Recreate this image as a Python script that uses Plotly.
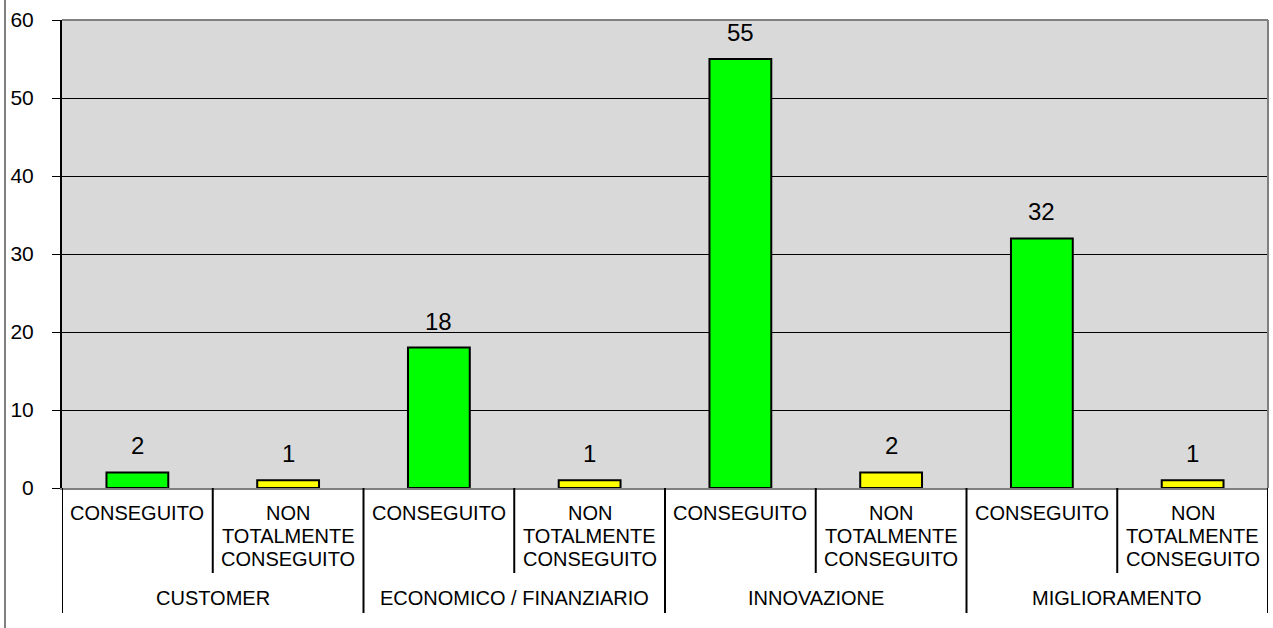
import plotly.graph_objects as go

groups = ["CUSTOMER", "ECONOMICO / FINANZIARIO", "INNOVAZIONE", "MIGLIORAMENTO"]
sub_lines = [["CONSEGUITO"], ["NON", "TOTALMENTE", "CONSEGUITO"]]
values = [2, 1, 18, 1, 55, 2, 32, 1]
colors = ["#00ff00", "#ffff00"]

W, H = 1273, 628
ML, MR, MT, MB = 62, 5, 20, 140
PH = H - MT - MB
FONT = "Liberation Sans, Arial, sans-serif"

n = len(values)
xs = list(range(n))
bar_colors = [colors[i % 2] for i in xs]

fig = go.Figure()
fig.add_trace(go.Bar(
    x=xs, y=values, width=0.41,
    marker=dict(color=bar_colors, line=dict(color="black", width=2)),
    hoverinfo="y",
))

annotations = []
for x, v in zip(xs, values):
    annotations.append(dict(x=x, y=v, xref="x", yref="y", text=str(v), showarrow=False,
                            yanchor="bottom", yshift=11,
                            font=dict(family=FONT, size=24, color="black")))

line_gap = 23
for i in xs:
    lines = sub_lines[i % 2]
    for k, t in enumerate(lines):
        annotations.append(dict(x=i, y=0, xref="x", yref="paper", text=t, showarrow=False,
                                yanchor="middle", yshift=-(25 + k * line_gap),
                                font=dict(family=FONT, size=20, color="black")))
for g, name in enumerate(groups):
    annotations.append(dict(x=2 * g + 0.5, y=0, xref="x", yref="paper", text=name, showarrow=False,
                            yanchor="middle", yshift=-110,
                            font=dict(family=FONT, size=20, color="black")))

shapes = []
for i in range(n + 1):
    b = i - 0.5
    depth = 125 if i % 2 == 0 else 85
    shapes.append(dict(type="line", xref="x", yref="paper", x0=b, x1=b,
                       y0=0, y1=-depth / PH, line=dict(color="black", width=2)))
# chart frame left edge
fx = -(ML - 5) / (W - ML - MR)
shapes.append(dict(type="line", xref="paper", yref="paper", x0=fx, x1=fx,
                   y0=-(MB) / PH, y1=1 + MT / PH, line=dict(color="black", width=1)))
# gray top/right border
shapes.append(dict(type="line", xref="paper", yref="paper", x0=0, x1=1, y0=1, y1=1,
                   line=dict(color="#808080", width=2)))
shapes.append(dict(type="line", xref="paper", yref="paper", x0=1, x1=1, y0=0, y1=1,
                   line=dict(color="#808080", width=2)))

fig.update_layout(
    width=W, height=H,
    margin=dict(l=ML, r=MR, t=MT, b=MB, autoexpand=False),
    paper_bgcolor="white", plot_bgcolor="#d9d9d9",
    showlegend=False,
    annotations=annotations, shapes=shapes,
    xaxis=dict(range=[-0.5, n - 0.5], showticklabels=False, ticks="", showgrid=False,
               zeroline=False, showline=True, linecolor="#808080", linewidth=2,
               automargin=False),
    yaxis=dict(range=[0, 60], dtick=10, showgrid=True, gridcolor="black", gridwidth=1,
               zeroline=False, showline=True, linecolor="black", linewidth=2,
               ticks="outside", ticklen=8, tickcolor="black", tickwidth=1,
               ticklabelstandoff=14, automargin=False,
               tickfont=dict(family=FONT, size=21, color="black")),
)

fig.write_html("out.html", config={"displayModeBar": False},
               post_script="document.body.style.margin='0px';document.body.style.overflow='hidden';")
